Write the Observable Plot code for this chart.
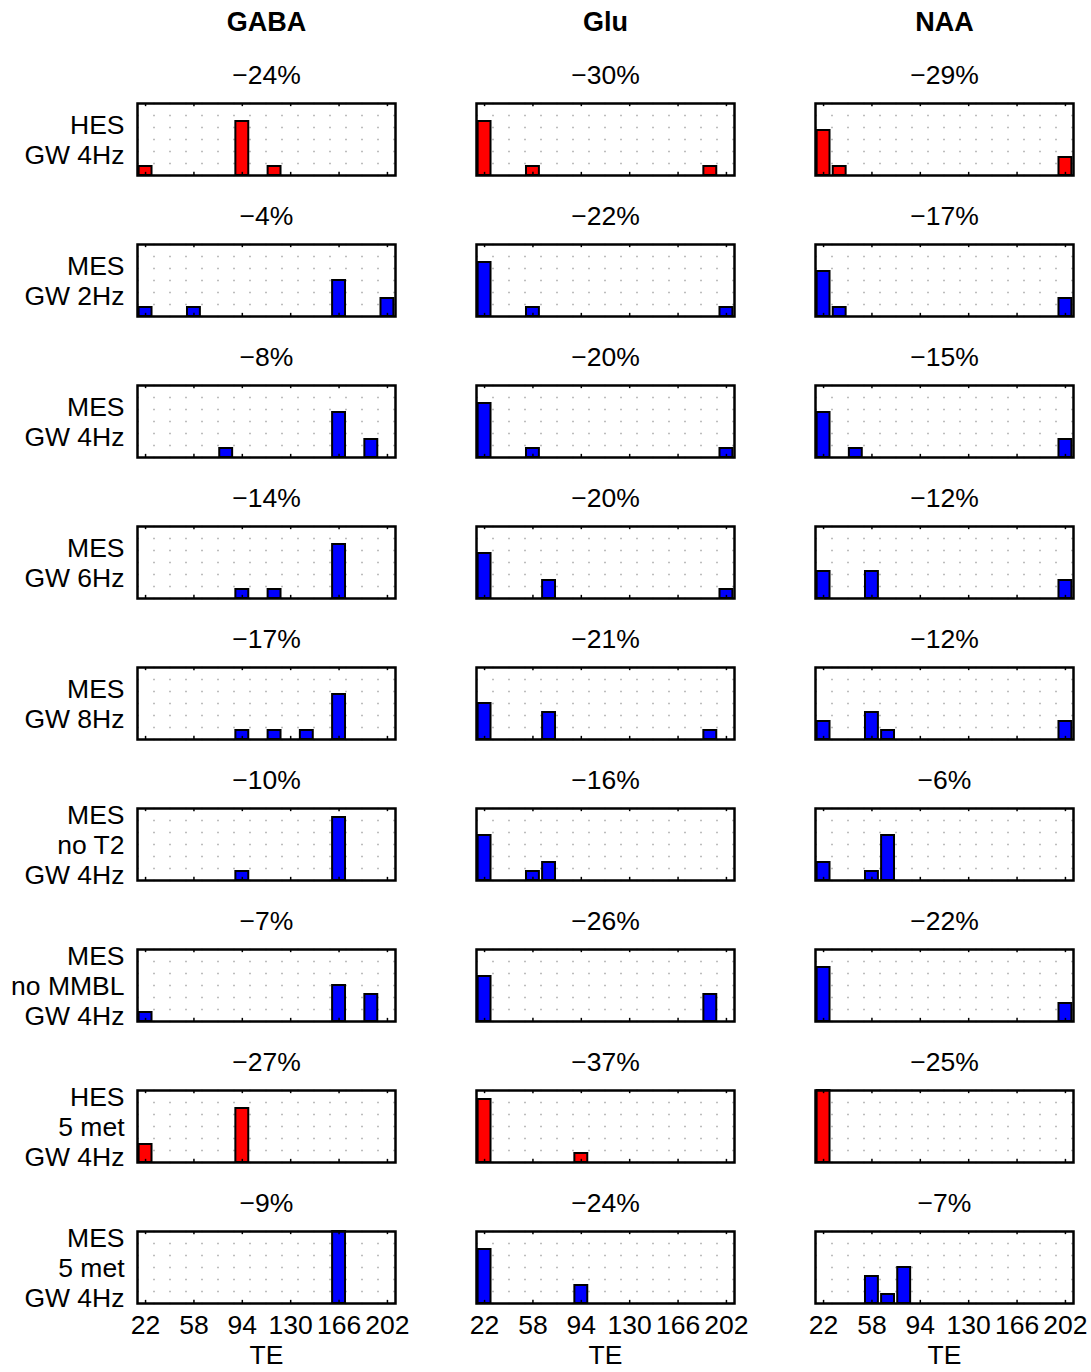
<!DOCTYPE html>
<html>
<head>
<meta charset="utf-8">
<script src="https://cdn.jsdelivr.net/npm/d3@7"></script>
<script src="https://cdn.jsdelivr.net/npm/@observablehq/plot@0.6"></script>
<style>
  html, body { margin: 0; padding: 0; background: #fff; }
  #chart { width: 1091px; height: 1372px; }
</style>
</head>
<body>
<div id="chart"></div>
<script>
// ---- data ----
const metabolites = ["GABA", "Glu", "NAA"];
const conditions = [
  "HES\nGW 4Hz",
  "MES\nGW 2Hz",
  "MES\nGW 4Hz",
  "MES\nGW 6Hz",
  "MES\nGW 8Hz",
  "MES\nno T2\nGW 4Hz",
  "MES\nno MMBL\nGW 4Hz",
  "HES\n5 met\nGW 4Hz",
  "MES\n5 met\nGW 4Hz"
];
const rowColors = ["#ff0000", "#0000ff", "#0000ff", "#0000ff", "#0000ff", "#0000ff", "#0000ff", "#ff0000", "#0000ff"];
const teTicks = [22, 58, 94, 130, 166, 202];

// [TE, count] per condition row
const gabaCounts = [
  [[22, 1], [94, 6], [118, 1]],
  [[22, 1], [58, 1], [166, 4], [202, 2]],
  [[82, 1], [166, 5], [190, 2]],
  [[94, 1], [118, 1], [166, 6]],
  [[94, 1], [118, 1], [142, 1], [166, 5]],
  [[94, 1], [166, 7]],
  [[22, 1], [166, 4], [190, 3]],
  [[22, 2], [94, 6]],
  [[166, 8]]
];
const gluCounts = [
  [[22, 6], [58, 1], [190, 1]],
  [[22, 6], [58, 1], [202, 1]],
  [[22, 6], [58, 1], [202, 1]],
  [[22, 5], [70, 2], [202, 1]],
  [[22, 4], [70, 3], [190, 1]],
  [[22, 5], [58, 1], [70, 2]],
  [[22, 5], [190, 3]],
  [[22, 7], [94, 1]],
  [[22, 6], [94, 2]]
];
const naaCounts = [
  [[22, 5], [34, 1], [202, 2]],
  [[22, 5], [34, 1], [202, 2]],
  [[22, 5], [46, 1], [202, 2]],
  [[22, 3], [58, 3], [202, 2]],
  [[22, 2], [58, 3], [70, 1], [202, 2]],
  [[22, 2], [58, 1], [70, 5]],
  [[22, 6], [202, 2]],
  [[22, 8]],
  [[58, 3], [70, 1], [82, 4]]
];
const gabaPct = [-24, -4, -8, -14, -17, -10, -7, -27, -9];
const gluPct  = [-30, -22, -20, -20, -21, -16, -26, -37, -24];
const naaPct  = [-29, -17, -15, -12, -12, -6, -22, -25, -7];

// ---- tables built from the arrays ----
const countsByMet = {GABA: gabaCounts, Glu: gluCounts, NAA: naaCounts};
const pctByMet = {GABA: gabaPct, Glu: gluPct, NAA: naaPct};
const bars = [];
const pcts = [];
metabolites.forEach(m => {
  conditions.forEach((c, i) => {
    countsByMet[m][i].forEach(([te, n]) => bars.push({metabolite: m, condition: c, te, count: n, color: rowColors[i]}));
    pcts.push({metabolite: m, condition: c, label: String(pctByMet[m][i]).replace("-", "\u2212") + "%"});
  });
});

const yMax = 8;
const yGrid = d3.range(0, 7).map(k => k * yMax / 6);
const halfWidth = 4.8;
const lastRow = conditions[conditions.length - 1];
const firstRow = conditions[0];
const font = "'Liberation Sans', Arial, Helvetica, sans-serif";
const fs = 26.5;

const chart = Plot.plot({
  width: 1091,
  height: 1372,
  marginLeft: 137,
  marginRight: 18,
  marginTop: 101,
  marginBottom: 67,
  style: {fontFamily: font, background: "#fff", color: "#000"},
  x: {domain: [16, 208], axis: null},
  y: {domain: [0, yMax], axis: null},
  fx: {domain: metabolites, paddingInner: 0.239, paddingOuter: 0, axis: null},
  fy: {domain: conditions, paddingInner: 0.491, paddingOuter: 0, axis: null},
  color: {type: "identity"},
  marks: [
    Plot.gridY(yGrid, {stroke: "#bdbdbd", strokeOpacity: 1, strokeWidth: 1.3, strokeDasharray: "2,14"}),
    Plot.rectY(bars, {
      fx: "metabolite", fy: "condition",
      x1: d => d.te - halfWidth, x2: d => d.te + halfWidth,
      y1: 0, y2: "count",
      fill: "color", stroke: "#000", strokeWidth: 2
    }),
    Plot.ruleX(teTicks, {x: d => d, y1: 0, y2: 0.35, stroke: "#000", strokeWidth: 1.5}),
    Plot.ruleX(teTicks, {x: d => d, y1: yMax - 0.35, y2: yMax, stroke: "#000", strokeWidth: 1.5}),
    Plot.frame({stroke: "#000", strokeWidth: 2.5}),
    // column headers
    Plot.text(metabolites, {fx: d => d, fy: () => firstRow, text: d => d, frameAnchor: "top", lineAnchor: "middle", dy: -81, fontSize: 27, fontWeight: "bold", fill: "#000"}),
    // percent titles
    Plot.text(pcts, {fx: "metabolite", fy: "condition", text: "label", frameAnchor: "top", lineAnchor: "middle", dy: -28, fontSize: fs, fill: "#000"}),
    // row labels
    Plot.text(conditions, {fx: () => "GABA", fy: d => d, text: d => d, frameAnchor: "left", lineAnchor: "middle", dx: -13, textAnchor: "end", fontSize: fs, lineHeight: 30 / fs, fill: "#000"}),
    // x tick labels on the bottom row
    Plot.text(teTicks, {fy: () => lastRow, x: d => d, text: d => String(d), frameAnchor: "bottom", lineAnchor: "middle", dy: 22, fontSize: fs, fill: "#000"}),
    Plot.text(["TE"], {fy: () => lastRow, text: d => d, frameAnchor: "bottom", lineAnchor: "middle", dy: 52, fontSize: fs, fill: "#000"})
  ]
});
document.getElementById("chart").appendChild(chart);
</script>
</body>
</html>
